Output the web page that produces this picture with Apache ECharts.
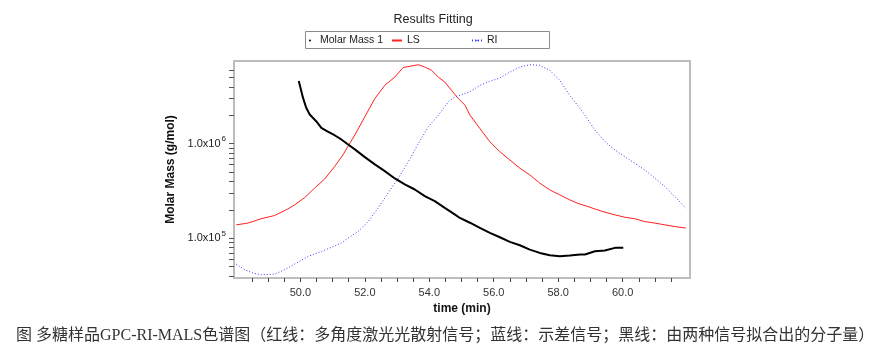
<!DOCTYPE html>
<html>
<head>
<meta charset="utf-8">
<script src="https://cdn.jsdelivr.net/npm/echarts@6/dist/echarts.min.js"></script>
<style>html,body{margin:0;padding:0;background:#fff;}#main{width:887px;height:354px;}</style>
</head>
<body>
<div id="main"></div>
<script>
// time (min)
const lsTime = [48.01,48.37,48.78,49.20,49.61,49.82,50.13,50.44,50.75,51.06,51.32,51.45,51.69,52.00,52.31,52.62,52.93,53.19,53.45,53.66,53.86,54.07,54.28,54.48,54.69,54.90,55.11,55.26,55.57,55.88,56.19,56.50,56.81,57.12,57.43,57.74,58.05,58.36,58.68,58.83,59.14,59.45,59.76,60.07,60.38,60.69,61.00,61.31,61.62,61.96];
// LS signal (relative %)
const lsSignal = [24.5,25.3,27.3,28.8,31.8,33.7,37.0,41.4,45.6,51.3,56.7,60.0,65.9,74.3,82.7,88.8,92.6,97.0,97.7,98.3,97.2,95.7,92.6,90.3,86.5,82.7,79.6,75.1,68.9,62.8,58.2,54.4,50.6,47.5,43.7,40.6,38.3,36.0,34.0,33.4,31.8,30.3,29.1,28.0,27.3,26.0,25.3,24.5,23.7,23.0];

const riTime = [48.01,48.27,48.53,48.78,49.20,49.51,49.82,50.23,50.65,50.96,51.27,51.45,51.79,52.10,52.41,52.72,53.04,53.35,53.66,53.97,54.28,54.59,54.80,54.95,55.26,55.57,55.88,56.19,56.50,56.81,57.12,57.43,57.74,58.05,58.36,58.68,58.83,59.14,59.45,59.76,60.07,60.38,60.69,61.00,61.31,61.62,61.96];
// RI signal (relative %)
const riSignal = [6.4,3.8,2.3,1.5,1.8,3.8,6.4,9.9,12.2,14.1,16.1,18.1,21.4,26.0,32.2,39.1,46.0,53.6,62.0,69.7,75.0,81.2,83.5,84.2,85.8,88.8,90.7,92.2,94.9,97.2,98.3,98.0,95.7,91.1,84.2,78.1,75.0,68.2,62.8,59.0,55.9,52.8,49.8,46.0,42.1,37.5,32.2];

const mmTime = [49.95,50.08,50.18,50.29,50.49,50.65,50.85,51.06,51.27,51.45,51.69,52.00,52.31,52.62,52.93,53.24,53.55,53.86,54.17,54.48,54.80,54.95,55.26,55.57,55.88,56.19,56.50,56.81,57.12,57.43,57.74,58.05,58.36,58.68,58.83,59.14,59.45,59.76,60.02];
// Molar Mass 1 (g/mol)
const molarMass = [4.60e6,3.07e6,2.40e6,2.04e6,1.73e6,1.47e6,1.34e6,1.23e6,1.11e6,1.00e6,8.71e5,7.21e5,6.04e5,5.13e5,4.29e5,3.71e5,3.28e5,2.79e5,2.47e5,2.10e5,1.78e5,1.64e5,1.46e5,1.29e5,1.14e5,1.025e5,9.16e4,8.43e4,7.59e4,7.00e4,6.61e4,6.45e4,6.56e4,6.73e4,6.73e4,7.29e4,7.41e4,7.92e4,7.92e4];

const xTickValues = [48.5,49,49.5,50,50.5,51,51.5,52,52.5,53,53.5,54,54.5,55,55.5,56,56.5,57,57.5,58,58.5,59,59.5,60,60.5,61,61.5];
const xLabelValues = [50,52,54,56,58,60];
const yTickValues = [4e4,5e4,6e4,7e4,8e4,9e4,1e5,2e5,3e5,4e5,5e5,6e5,7e5,8e5,9e5,1e6,2e6,3e6,4e6,5e6,6e6];
const yLabelValues = [1e5,1e6];

const titleText = 'Results Fitting';
const captionText = '图 多糖样品GPC-RI-MALS色谱图（红线：多角度激光光散射信号；蓝线：示差信号；黑线：由两种信号拟合出的分子量）';

const zip = (a, b) => a.map((v, i) => [v, b[i]]);
const FONT = 'Liberation Sans';
const legendCommon = {
  top: 35, padding: 0, itemWidth: 10, itemHeight: 2, itemGap: 8,
  textStyle: {fontFamily: FONT, fontSize: 10.5, color: '#222'}
};

const chart = echarts.init(document.getElementById('main'), null, {renderer: 'canvas'});
chart.setOption({
  animation: false,
  backgroundColor: '#fff',
  title: {
    text: titleText, left: 428, top: 8, textAlign: 'center',
    textStyle: {fontFamily: FONT, fontSize: 12.5, fontWeight: 'normal', color: '#222'}
  },
  legend: [
    Object.assign({}, legendCommon, {left: 309,
      data: [{name: 'Molar Mass 1', icon: 'circle', itemStyle: {color: '#000'}}, {name: 'LS'}]}),
    Object.assign({}, legendCommon, {left: 471, data: [{name: 'RI'}]})
  ],
  grid: {
    left: 234, top: 61, right: 197, bottom: 76,
    show: true, borderColor: '#bdbdbd', borderWidth: 2, backgroundColor: 'transparent'
  },
  xAxis: {
    type: 'value', min: 47.94, max: 62.09,
    name: 'time (min)', nameLocation: 'middle', nameGap: 25,
    nameTextStyle: {fontFamily: FONT, fontSize: 12, fontWeight: 'bold', color: '#111'},
    axisLine: {show: false},
    splitLine: {show: false},
    axisTick: {show: true, length: 4, lineStyle: {color: '#444'}, customValues: xTickValues},
    axisLabel: {fontFamily: FONT, fontSize: 11, color: '#333', margin: 9, customValues: xLabelValues,
      formatter: v => v.toFixed(1)}
  },
  yAxis: [{
    type: 'log', logBase: 10, min: 3.8e4, max: 7.5e6,
    name: 'Molar Mass (g/mol)', nameLocation: 'middle', nameGap: 50, nameRotate: 90,
    nameTextStyle: {fontFamily: FONT, fontSize: 12, fontWeight: 'bold', color: '#111'},
    axisLine: {show: false},
    splitLine: {show: false},
    minorTick: {show: false},
    axisTick: {show: true, length: 5, lineStyle: {color: '#555'}, customValues: yTickValues},
    axisLabel: {
      customValues: yLabelValues, margin: 8,
      formatter: v => '{b|1.0x10}{s|' + Math.round(Math.log10(v)) + '}',
      rich: {
        b: {fontFamily: FONT, fontSize: 11, color: '#222'},
        s: {fontFamily: FONT, fontSize: 8, color: '#222', padding: [0, 0, 9, 1]}
      }
    }
  }, {
    type: 'value', min: 0, max: 100, show: false
  }],
  graphic: [{
    type: 'rect', shape: {x: 305.5, y: 31.5, width: 244, height: 17},
    style: {fill: 'none', stroke: '#8c8c8c', lineWidth: 1}, silent: true
  }, {
    type: 'text', left: 16, top: 328,
    style: {text: captionText, font: '16px "Liberation Serif", "Noto Sans CJK SC"', fill: '#333'}
  }],
  series: [
    {
      name: 'Molar Mass 1', type: 'line', yAxisIndex: 0, data: zip(mmTime, molarMass),
      symbol: 'none', lineStyle: {color: '#000', width: 2}, itemStyle: {color: '#000'}, z: 5
    },
    {
      name: 'LS', type: 'line', yAxisIndex: 1, data: zip(lsTime, lsSignal),
      symbol: 'none', lineStyle: {color: '#ff2020', width: 1}, itemStyle: {color: '#ff2020'}
    },
    {
      name: 'RI', type: 'line', yAxisIndex: 1, data: zip(riTime, riSignal),
      symbol: 'none', lineStyle: {color: '#3c3cff', width: 1, type: [1, 2]}, itemStyle: {color: '#3c3cff'}
    }
  ]
});
</script>
</body>
</html>
